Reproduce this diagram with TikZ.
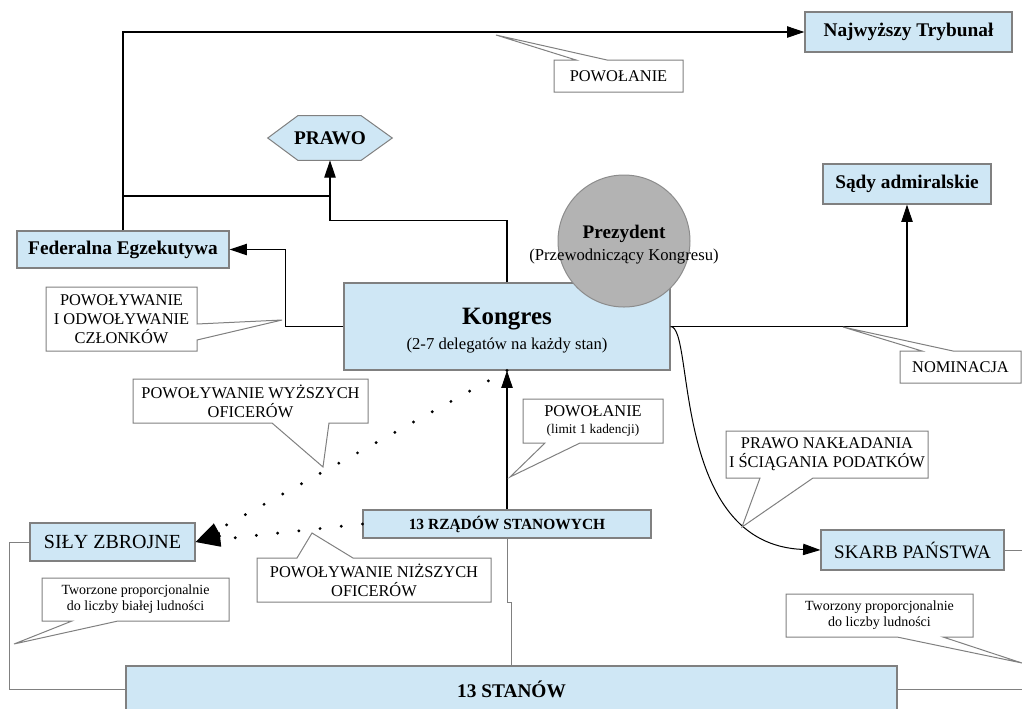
\documentclass[tikz,border=0pt]{standalone}
\usepackage{fontspec}
\setmainfont{Liberation Serif}
\usetikzlibrary{arrows.meta,calc}

\definecolor{boxfill}{RGB}{207,231,245}
\definecolor{boxline}{RGB}{128,128,128}
\definecolor{calline}{RGB}{128,128,128}
\definecolor{prezfill}{RGB}{179,179,179}
\definecolor{prezline}{RGB}{140,140,140}

\begin{document}
\begin{tikzpicture}[x=0.75pt,y=-0.75pt,
  sz/.style 2 args={minimum width=#1*0.75pt, minimum height=#2*0.75pt},
  bluebox/.style={draw=boxline, fill=boxfill, line width=0.85pt, inner sep=0pt, align=center},
  bigb/.style={font=\fontsize{14.5}{17}\selectfont\bfseries},
  callbox/.style={draw=calline, fill=white, line width=0.75pt, line join=miter},
  ctext/.style={align=center, inner sep=0pt, font=\fontsize{12.3}{14.3}\selectfont},
  stext/.style={align=center, inner sep=0pt, font=\fontsize{10.5}{12}\selectfont},
  conn/.style={draw=black, line width=0.8pt},
  grayconn/.style={draw=boxline, line width=0.75pt},
  endarrow/.style={-{Triangle[length=13pt,width=8.5pt]}},
  dotline/.style={line width=2.4pt, line cap=round, dash pattern=on 0pt off 16pt,
    -{Triangle[length=18.75pt,width=11.25pt,line width=0pt]}},
]
\useasboundingbox (0,0) rectangle (1022,708);
\clip (0,0) rectangle (1022,708);

% ---- boxes ----
\node[bluebox,bigb,sz={207}{40}] (trib) at (908.5,32) {Najwyższy Trybunał};
\node[bluebox,bigb,sz={212}{37}] (fed) at (123,249.5) {Federalna Egzekutywa};
\node[bluebox,bigb,sz={168}{40}] (sady) at (907,184) {Sądy admiralskie};
\node[bluebox,sz={326}{87}] (kong) at (507,326.5) {};
\node[align=center,inner sep=0pt,font=\fontsize{12.5}{18.75}\selectfont] (kongt) at (507,331)
  {{\fontsize{18.7}{18.75}\selectfont\bfseries Kongres}\\(2-7 delegatów na każdy stan)};
\node[bluebox,sz={183}{40},font=\fontsize{14.3}{17}\selectfont] (skarb) at (912.5,550) {SKARB PAŃSTWA};
\node[bluebox,sz={165}{38},font=\fontsize{15}{17}\selectfont] (sily) at (112.5,542) {SIŁY ZBROJNE};
\node[bluebox,sz={288}{28},font=\fontsize{11.6}{14}\selectfont\bfseries] (rzad) at (507,524) {13 RZĄDÓW STANOWYCH};
\node[bluebox,bigb,sz={771}{46}] (stan) at (511.5,689) {13 STANÓW};

% ---- PRAWO hexagon ----
\node[inner sep=0pt,sz={124}{44}] (prawo) at (330,138) {};
\draw[fill=boxfill,draw=boxline,line width=0.75pt]
  (prawo.west) -- ([xshift=22.5pt]prawo.north west) -- ([xshift=-23.25pt]prawo.north east)
  -- (prawo.east) -- ([xshift=-23.25pt]prawo.south east) -- ([xshift=22.5pt]prawo.south west) -- cycle;
\node[bigb,inner sep=0pt] (prawot) at (prawo) {PRAWO};

% ---- connectors ----
\draw[conn,endarrow] (fed.north) |- (trib.west);
\coordinate (j1) at (123,196);
\coordinate (j2) at (330,196);
\draw[conn] (j1) -- (j2);
\draw[conn,endarrow] (kong.north) -- ++(0,-62) -| (prawo.south);
\draw[conn,endarrow] (kong.west) -- ++(-58,0) |- (fed.east);
\draw[conn,endarrow] (kong.east) -| (sady.south);
\draw[conn,line width=0.75pt,endarrow] (kong.east) .. controls (695,327) and (670,545) .. (skarb.west);
\draw[conn,endarrow] (rzad.north) -- (kong.south);
\draw[dotline] (kong.south) -- (sily.east);
\draw[dotline] (rzad.west) -- (sily.east);

\coordinate (edgeR) at (1022,0);
\draw[grayconn] (rzad.south) -- ++(0,64) -| (stan.north);
\draw[grayconn] (stan.west) -- ++(-116,0) |- (sily.west);
\draw[grayconn] (stan.east) -- (stan.east -| edgeR);
\draw[grayconn] (skarb.east) -- (skarb.east -| edgeR);

% ---- president ----
\node[circle,draw=prezline,fill=prezfill,line width=0.75pt,minimum size=99pt,inner sep=0pt] (prez) at (624,241) {};
\node[align=center,inner sep=0pt,font=\fontsize{12.5}{16.5}\selectfont] (prezt) at (624,245)
  {{\fontsize{14.4}{16.5}\selectfont\bfseries Prezydent}\\(Przewodniczący Kongresu)};

% ---- callouts ----
\draw[callbox] (554,60) -- (576,60) -- (496,35) -- (607,60) -- (683,60) -- (683,92) -- (554,92) -- cycle;
\node[ctext] (c1) at (618.5,76) {POWOŁANIE};

\draw[callbox] (46,287) -- (197,287) -- (197,324) -- (282,320) -- (197,340) -- (197,351) -- (46,351) -- cycle;
\node[ctext] (c2) at (121.5,319) {POWOŁYWANIE\\I ODWOŁYWANIE\\CZŁONKÓW};

\draw[callbox] (900,351) -- (922,351) -- (843,327) -- (953,351) -- (1021,351) -- (1021,383) -- (900,383) -- cycle;
\node[ctext] (c3) at (960.5,367) {NOMINACJA};

\draw[callbox] (133,379) -- (368,379) -- (368,423) -- (329,423) -- (323,467) -- (272,423) -- (133,423) -- cycle;
\node[ctext] (c4) at (250.5,401) {POWOŁYWANIE WYŻSZYCH\\OFICERÓW};

\draw[callbox] (523,399) -- (663,399) -- (663,443) -- (580,443) -- (510,477) -- (545,443) -- (523,443) -- cycle;
\node[ctext] (c5) at (593,421) {POWOŁANIE\\[-2pt]{\fontsize{10}{12}\selectfont (limit 1 kadencji)}};

\draw[callbox] (726,431) -- (928,431) -- (928,478) -- (813,478) -- (742,527) -- (760,478) -- (726,478) -- cycle;
\node[ctext] (c6) at (827,454.5) {PRAWO NAKŁADANIA\\I ŚCIĄGANIA PODATKÓW};

\draw[callbox] (257,558) -- (297,558) -- (312,533) -- (353,558) -- (491,558) -- (491,602) -- (257,602) -- cycle;
\node[ctext] (c7) at (374,580) {POWOŁYWANIE NIŻSZYCH\\OFICERÓW};

\draw[callbox] (42,578) -- (229,578) -- (229,621) -- (118,621) -- (14,644) -- (72,621) -- (42,621) -- cycle;
\node[stext] (c8) at (135.5,599.5) {Tworzone proporcjonalnie\\do liczby białej ludności};

\draw[callbox] (786,594) -- (973,594) -- (973,637) -- (943,637) -- (1022,663) -- (897,637) -- (786,637) -- cycle;
\node[stext] (c9) at (879.5,615.5) {Tworzony proporcjonalnie\\do liczby ludności};
\end{tikzpicture}
\end{document}
